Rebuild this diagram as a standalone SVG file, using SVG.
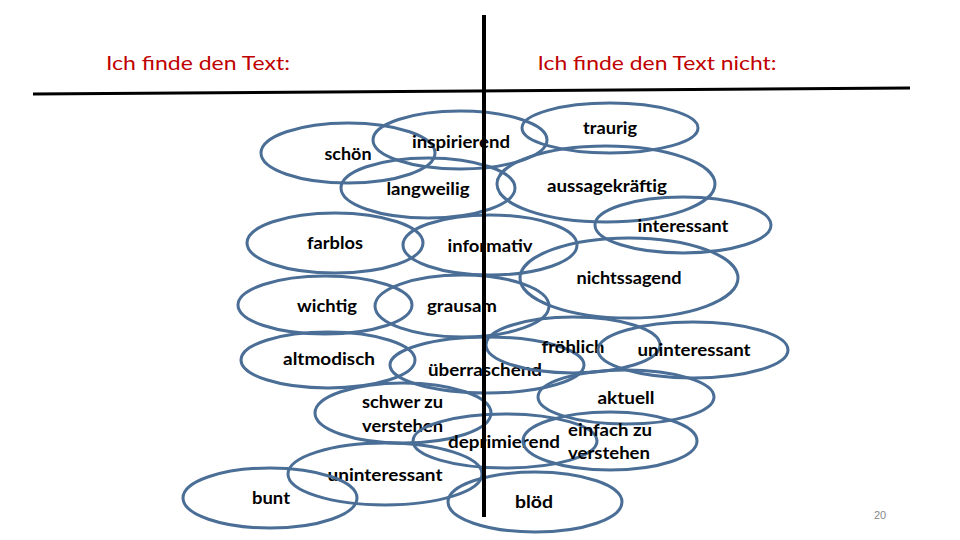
<svg xmlns="http://www.w3.org/2000/svg" width="960" height="540" viewBox="0 0 960 540">
<style>
.bg{fill:#ffffff}
.e{fill:none;stroke:#4a6e96;stroke-width:3}
.t{font-family:Lato,"Open Sans","Liberation Sans",sans-serif;font-weight:bold;font-size:17px;fill:#000000;text-anchor:middle}
.l{text-anchor:start}
.h{font-family:Lato,"Open Sans","Liberation Sans",sans-serif;font-size:20px;fill:#c00000;text-anchor:middle}
.pg{font-family:"Liberation Sans",sans-serif;font-size:11px;fill:#888888;text-anchor:middle}
.ln{stroke:#000000;fill:none}
</style>
<rect class="bg" x="0" y="0" width="960" height="540"/>
<g id="headers">
<text class="h" x="198" y="70" textLength="184" lengthAdjust="spacingAndGlyphs">Ich finde den Text:</text>
<text class="h" x="657" y="70" textLength="239" lengthAdjust="spacingAndGlyphs">Ich finde den Text nicht:</text>
</g>
<g id="nodes">
<g id="n-schoen"><text class="t" x="348" y="160" textLength="47" lengthAdjust="spacingAndGlyphs">schön</text><ellipse class="e" cx="348" cy="153" rx="87" ry="30"/></g>
<g id="n-inspirierend"><text class="t" x="461" y="148" textLength="98" lengthAdjust="spacingAndGlyphs">inspirierend</text><ellipse class="e" cx="460" cy="140" rx="87" ry="29"/></g>
<g id="n-traurig"><text class="t" x="610" y="134" textLength="54" lengthAdjust="spacingAndGlyphs">traurig</text><ellipse class="e" cx="610" cy="128" rx="88" ry="25"/></g>
<g id="n-langweilig"><text class="t" x="428" y="195" textLength="83" lengthAdjust="spacingAndGlyphs">langweilig</text><ellipse class="e" cx="428" cy="188" rx="87" ry="30"/></g>
<g id="n-aussagekraeftig"><text class="t" x="607" y="192" textLength="120" lengthAdjust="spacingAndGlyphs">aussagekräftig</text><ellipse class="e" cx="606" cy="184" rx="109" ry="38"/></g>
<g id="n-interessant"><text class="t" x="683" y="232" textLength="91" lengthAdjust="spacingAndGlyphs">interessant</text><ellipse class="e" cx="683" cy="225" rx="88" ry="28"/></g>
<g id="n-farblos"><text class="t" x="335" y="249" textLength="56" lengthAdjust="spacingAndGlyphs">farblos</text><ellipse class="e" cx="335" cy="243" rx="88" ry="30"/></g>
<g id="n-informativ"><text class="t" x="490" y="252" textLength="85" lengthAdjust="spacingAndGlyphs">informativ</text><ellipse class="e" cx="490" cy="245" rx="87" ry="30"/></g>
<g id="n-nichtssagend"><text class="t" x="629" y="284" textLength="105" lengthAdjust="spacingAndGlyphs">nichtssagend</text><ellipse class="e" cx="629" cy="278" rx="109" ry="40"/></g>
<g id="n-wichtig"><text class="t" x="327" y="312" textLength="60" lengthAdjust="spacingAndGlyphs">wichtig</text><ellipse class="e" cx="325" cy="305" rx="87" ry="29"/></g>
<g id="n-grausam"><text class="t" x="462" y="312" textLength="70" lengthAdjust="spacingAndGlyphs">grausam</text><ellipse class="e" cx="462" cy="306" rx="87" ry="31"/></g>
<g id="n-altmodisch"><text class="t" x="329" y="365" textLength="92" lengthAdjust="spacingAndGlyphs">altmodisch</text><ellipse class="e" cx="328" cy="360" rx="87" ry="28"/></g>
<g id="n-ueberraschend"><text class="t" x="485" y="376" textLength="114" lengthAdjust="spacingAndGlyphs">überraschend</text><ellipse class="e" cx="487" cy="365" rx="97" ry="28"/></g>
<g id="n-froehlich"><text class="t" x="573" y="353" textLength="63" lengthAdjust="spacingAndGlyphs">fröhlich</text><ellipse class="e" cx="573" cy="345" rx="87" ry="28"/></g>
<g id="n-uninteressant1"><text class="t" x="694" y="356" textLength="113" lengthAdjust="spacingAndGlyphs">uninteressant</text><ellipse class="e" cx="693" cy="350" rx="95" ry="28"/></g>
<g id="n-aktuell"><text class="t" x="626" y="404" textLength="57" lengthAdjust="spacingAndGlyphs">aktuell</text><ellipse class="e" cx="626" cy="397" rx="88" ry="27"/></g>
<g id="n-schwer"><text class="t l" x="362" y="408" textLength="81" lengthAdjust="spacingAndGlyphs">schwer zu</text><text class="t l" x="362" y="432" textLength="81" lengthAdjust="spacingAndGlyphs">verstehen</text><ellipse class="e" cx="403" cy="413" rx="88" ry="30"/></g>
<g id="n-deprimierend"><text class="t" x="504" y="448" textLength="112" lengthAdjust="spacingAndGlyphs">deprimierend</text><ellipse class="e" cx="505" cy="441" rx="92" ry="27"/></g>
<g id="n-einfach"><text class="t l" x="568" y="436" textLength="84" lengthAdjust="spacingAndGlyphs">einfach zu</text><text class="t l" x="568" y="459" textLength="82" lengthAdjust="spacingAndGlyphs">verstehen</text><ellipse class="e" cx="610" cy="441" rx="87" ry="29"/></g>
<g id="n-uninteressant2"><text class="t" x="385" y="481" textLength="115" lengthAdjust="spacingAndGlyphs">uninteressant</text><ellipse class="e" cx="385" cy="474" rx="97" ry="31"/></g>
<g id="n-bunt"><text class="t" x="271" y="504" textLength="38" lengthAdjust="spacingAndGlyphs">bunt</text><ellipse class="e" cx="270" cy="498" rx="87" ry="30"/></g>
<g id="n-bloed"><text class="t" x="534" y="508" textLength="38" lengthAdjust="spacingAndGlyphs">blöd</text><ellipse class="e" cx="535" cy="502" rx="87" ry="30"/></g>
</g>
<g id="connectors">
<line class="ln" x1="33" y1="94" x2="910" y2="88" stroke-width="3"/>
<line class="ln" x1="484" y1="15" x2="484" y2="517" stroke-width="4"/>
</g>
<text class="pg" x="880" y="519">20</text>
</svg>
